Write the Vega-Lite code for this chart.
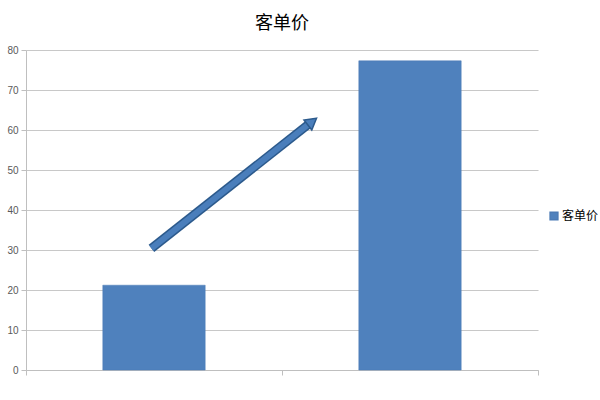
{
  "$schema": "https://vega.github.io/schema/vega-lite/v6.json",
  "width": 512,
  "height": 320,
  "autosize": "none",
  "padding": {"left": 26, "top": 50, "right": 62, "bottom": 30},
  "background": "white",
  "config": {
    "view": {"stroke": null},
    "font": "Noto Sans CJK SC",
    "axisX": {
      "labels": false,
      "grid": false,
      "title": null,
      "domainColor": "#bfbfbf",
      "tickColor": "#bfbfbf",
      "tickSize": 5
    },
    "axisY": {
      "title": null,
      "grid": true,
      "gridColor": "#c8c8c8",
      "gridWidth": 1.2,
      "domainColor": "#bfbfbf",
      "tickColor": "#bfbfbf",
      "tickSize": 5,
      "labelPadding": 3,
      "labelFontSize": 10,
      "labelColor": "#595959",
      "labelFont": "Liberation Sans"
    }
  },
  "title": {
    "text": "客单价",
    "fontSize": 18,
    "fontWeight": "normal",
    "color": "#000000",
    "offset": 12
  },
  "datasets": {
    "bars": [
      {"x0": 0.3, "x1": 0.7, "value": 21.2, "series": "客单价"},
      {"x0": 1.3, "x1": 1.7, "value": 77.3, "series": "客单价"}
    ],
    "arrow": [
      {"ax": 0.49, "ay": 30.4, "ax2": 1.105, "ay2": 61.5, "hx": 1.118, "hy": 62.1}
    ]
  },
  "layer": [
    {
      "data": {"name": "bars"},
      "mark": {"type": "rect", "stroke": "#4a7ab5", "strokeWidth": 0.5},
      "encoding": {
        "x": {
          "field": "x0",
          "type": "quantitative",
          "scale": {"domain": [0, 2], "nice": false, "zero": false},
          "axis": {"values": [0, 1, 2]}
        },
        "x2": {"field": "x1"},
        "y": {
          "field": "value",
          "type": "quantitative",
          "scale": {"domain": [0, 80], "nice": false},
          "axis": {"values": [0, 10, 20, 30, 40, 50, 60, 70, 80]}
        },
        "y2": {"datum": 0},
        "color": {
          "field": "series",
          "type": "nominal",
          "scale": {"range": ["#4f81bd"]},
          "legend": {
            "title": null,
            "orient": "none",
            "legendX": 522,
            "legendY": 160,
            "symbolType": "square",
            "symbolSize": 60,
            "labelFontSize": 12,
            "labelColor": "#000000",
            "labelOffset": 2
          }
        }
      }
    },
    {
      "data": {"name": "arrow"},
      "mark": {"type": "rule", "color": "#2c5a8c", "strokeWidth": 9, "strokeCap": "butt"},
      "encoding": {
        "x": {"field": "ax", "type": "quantitative", "axis": {"values": [0, 1, 2]}},
        "y": {"field": "ay", "type": "quantitative", "axis": {"values": [0, 10, 20, 30, 40, 50, 60, 70, 80]}},
        "x2": {"field": "ax2"},
        "y2": {"field": "ay2"}
      }
    },
    {
      "data": {"name": "arrow"},
      "mark": {"type": "rule", "color": "#4a7ebb", "strokeWidth": 6, "strokeCap": "butt"},
      "encoding": {
        "x": {"field": "ax", "type": "quantitative", "axis": {"values": [0, 1, 2]}},
        "y": {"field": "ay", "type": "quantitative", "axis": {"values": [0, 10, 20, 30, 40, 50, 60, 70, 80]}},
        "x2": {"field": "ax2"},
        "y2": {"field": "ay2"}
      }
    },
    {
      "data": {"name": "arrow"},
      "mark": {
        "type": "point",
        "shape": "triangle-up",
        "filled": true,
        "size": 160,
        "angle": 52,
        "fill": "#4a7ebb",
        "stroke": "#2c5a8c",
        "strokeWidth": 1.5,
        "opacity": 1
      },
      "encoding": {
        "x": {"field": "hx", "type": "quantitative", "axis": {"values": [0, 1, 2]}},
        "y": {"field": "hy", "type": "quantitative", "axis": {"values": [0, 10, 20, 30, 40, 50, 60, 70, 80]}}
      }
    }
  ]
}
